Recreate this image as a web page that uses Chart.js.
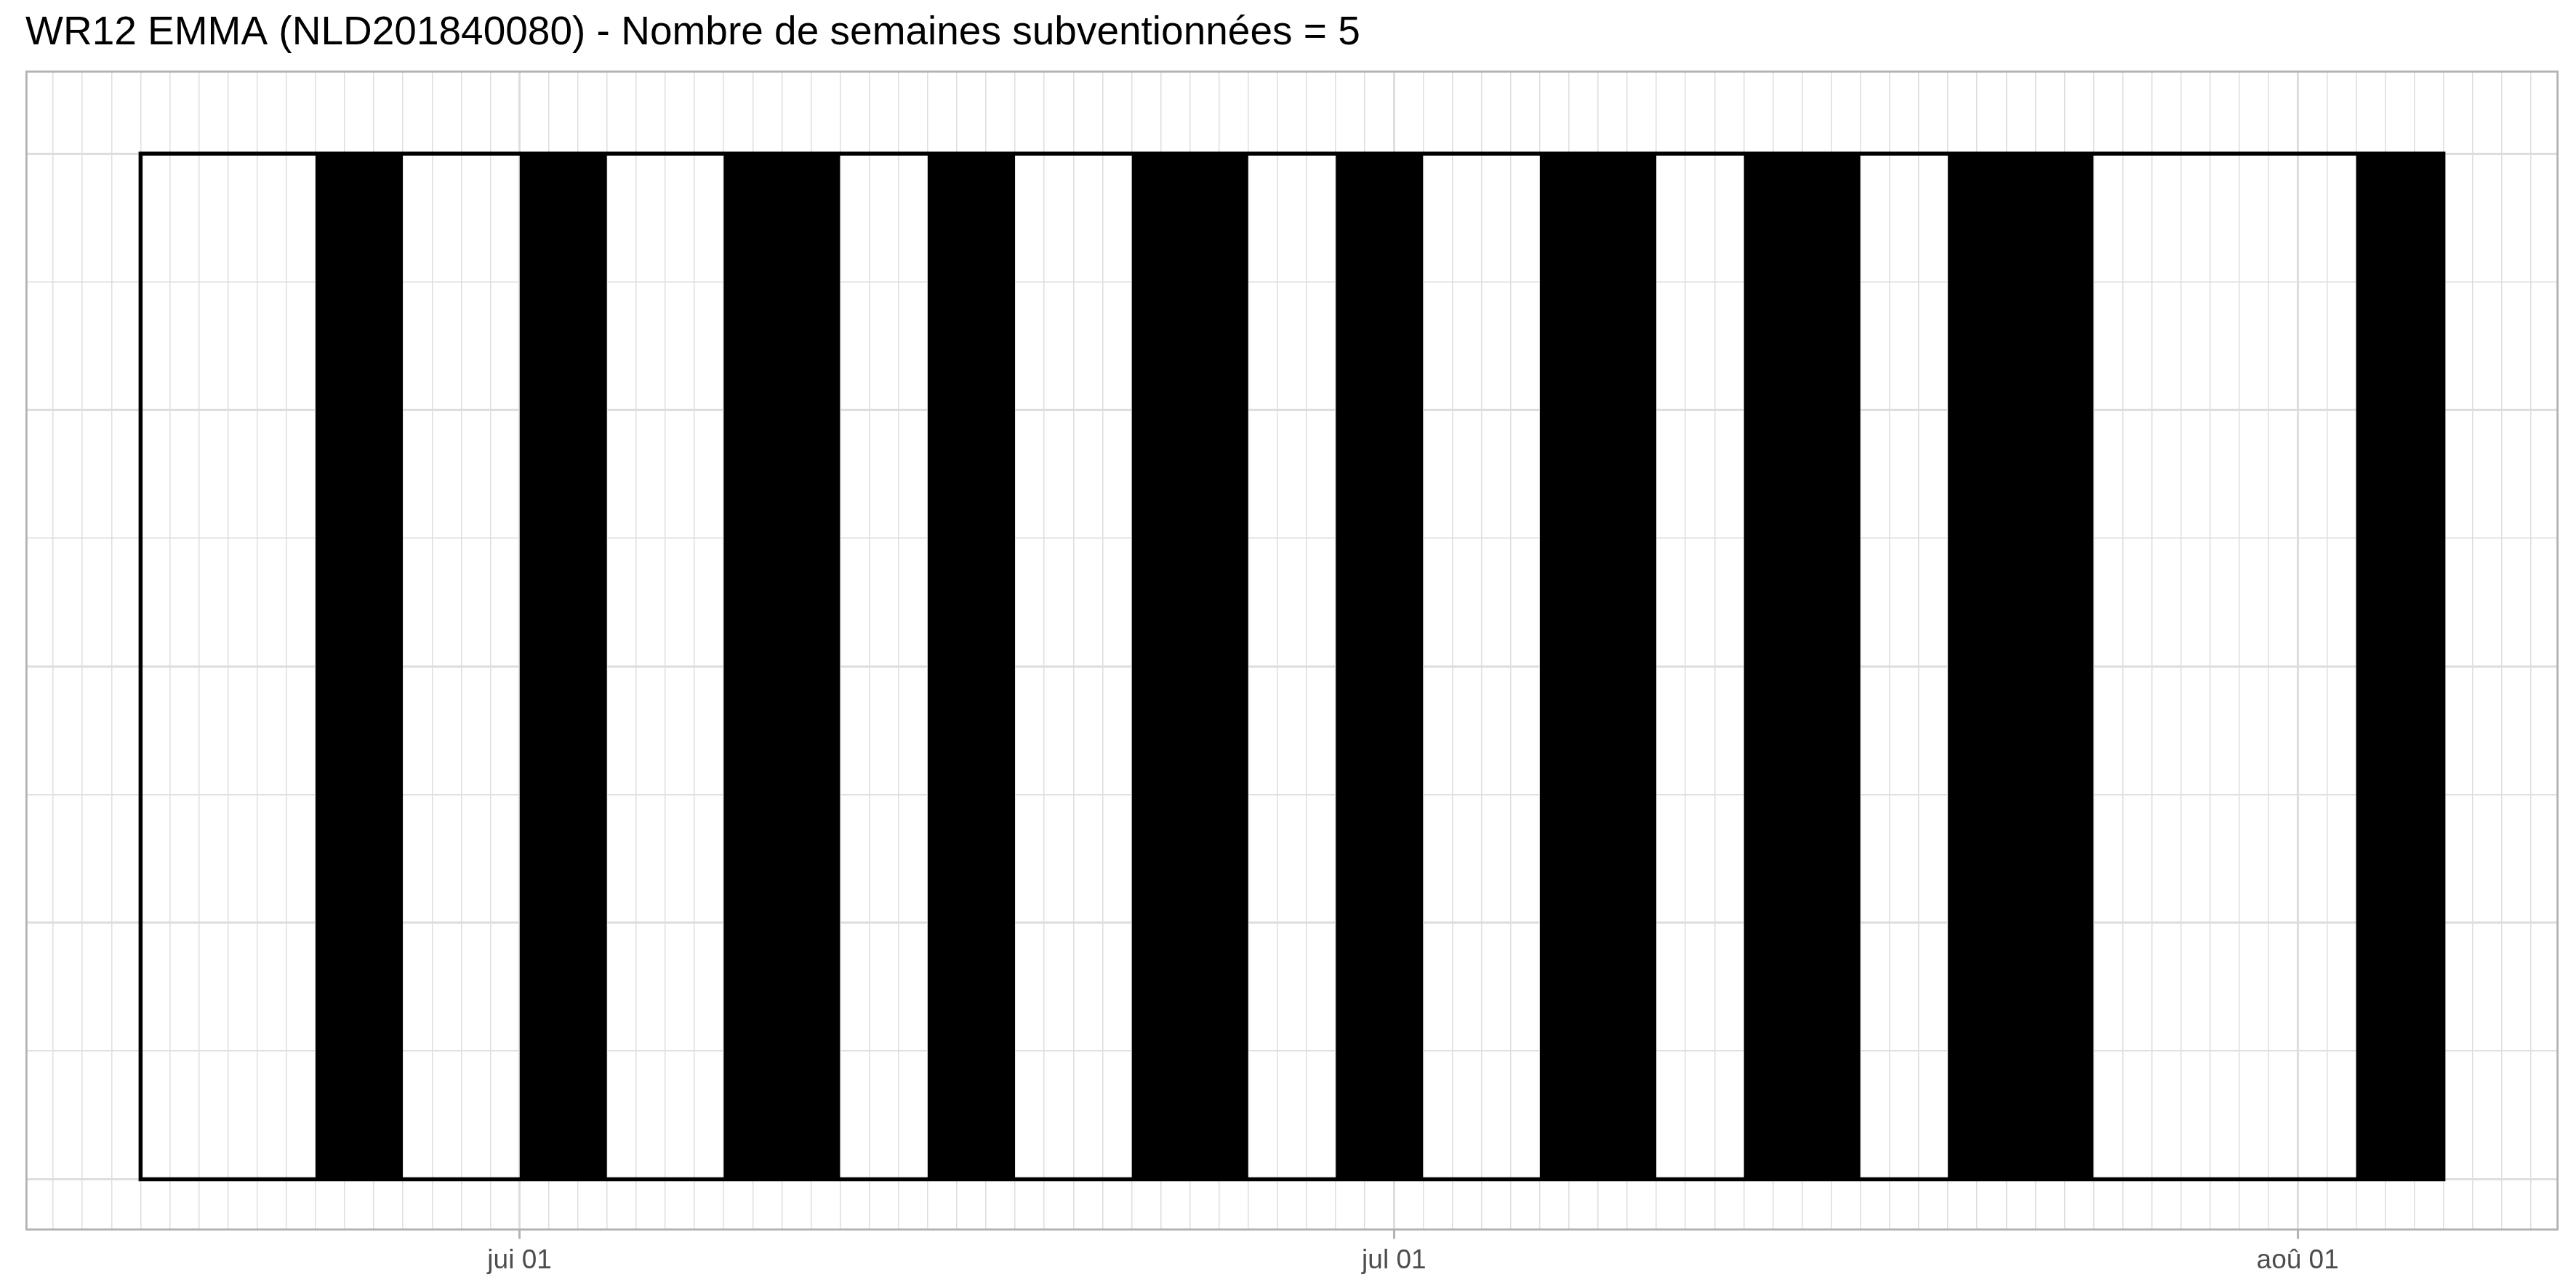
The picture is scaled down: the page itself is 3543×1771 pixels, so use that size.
<!DOCTYPE html>
<html>
<head>
<meta charset="utf-8">
<script src="https://cdn.jsdelivr.net/npm/chart.js@4/dist/chart.umd.min.js"></script>
<style>
  html, body { margin: 0; padding: 0; background: #fff; }
  canvas { display: block; }
</style>
</head>
<body>
<canvas id="chart" width="3543" height="1771"></canvas>
<script>
// period of the whole trip and the subsidised stretches (black bars)
const tripStart = '2018-05-19';
const tripEnd = '2018-08-06';
const blackStart = ['2018-05-25', '2018-06-01', '2018-06-08', '2018-06-15', '2018-06-22',
                    '2018-06-29', '2018-07-06', '2018-07-13', '2018-07-20', '2018-08-03'];
const blackEnd = ['2018-05-28', '2018-06-04', '2018-06-12', '2018-06-18', '2018-06-26',
                  '2018-07-02', '2018-07-10', '2018-07-17', '2018-07-25', '2018-08-06'];
const monthTicks = ['2018-06-01', '2018-07-01', '2018-08-01'];
const monthLabels = ['jui 01', 'jul 01', 'aoû 01'];

const titleText = 'WR12 EMMA (NLD201840080) - Nombre de semaines subventionnées = 5';

// days counted from 1 June
function dayOf(s) {
    const p = s.split('-').map(Number);
    return (Date.UTC(p[0], p[1] - 1, p[2]) - Date.UTC(2018, 5, 1)) / 86400000;
}

const x0 = dayOf(tripStart);
const x1 = dayOf(tripEnd);
const pad = (x1 - x0) * 0.05;
const majorDays = monthTicks.map(dayOf);

const GRID = '#DEDEDE';

let datasets = [];

// outline of the trip
datasets.push({
    data: [
        {x: x0, y: 0}, {x: x0, y: 1}, {x: x1, y: 1},
        {x: x1, y: 0}, {x: x0, y: 0}, {x: x0, y: 1}
    ],
    showLine: true,
    borderColor: '#000000',
    borderWidth: 5.5,
    borderJoinStyle: 'miter',
    pointRadius: 0,
    fill: false
});

// black stretches
blackStart.forEach((s, i) => {
    datasets.push({
        data: [{x: dayOf(s), y: 1}, {x: dayOf(blackEnd[i]), y: 1}],
        showLine: true,
        borderColor: '#000000',
        borderWidth: 1,
        backgroundColor: '#000000',
        pointRadius: 0,
        fill: {value: 0}
    });
});

const panelBorder = {
    id: 'panelBorder',
    afterDatasetsDraw(chart) {
        const a = chart.chartArea;
        const c = chart.ctx;
        c.save();
        c.strokeStyle = '#B3B3B3';
        c.lineWidth = 2.8;
        c.strokeRect(a.left + 1.4, a.top + 1.4, a.right - a.left - 2.8, a.bottom - a.top - 2.8);
        c.restore();
    }
};

Chart.defaults.font.family = '"Liberation Sans", Arial, sans-serif';

new Chart(document.getElementById('chart'), {
    type: 'scatter',
    data: {datasets: datasets},
    plugins: [panelBorder],
    options: {
        responsive: false,
        animation: false,
        devicePixelRatio: 1,
        layout: {padding: {left: 35, right: 24, top: 0, bottom: 0}},
        plugins: {
            legend: {display: false},
            tooltip: {enabled: false},
            title: {
                display: true,
                text: titleText,
                align: 'start',
                color: '#000000',
                font: {size: 55, weight: 'normal', lineHeight: 1.2},
                padding: {top: 13, bottom: 18}
            }
        },
        scales: {
            x: {
                type: 'linear',
                min: x0 - pad,
                max: x1 + pad,
                afterBuildTicks: scale => {
                    let t = [];
                    for (let d = Math.ceil(scale.min); d <= Math.floor(scale.max); d++) {
                        t.push({value: d});
                    }
                    scale.ticks = t;
                },
                afterFit: scale => { scale.height = 79; },
                border: {display: false},
                grid: {
                    color: GRID,
                    lineWidth: ctx => majorDays.includes(ctx.tick.value) ? 3 : 1.5,
                    drawTicks: true,
                    tickLength: 11.5,
                    tickWidth: 3,
                    tickColor: ctx => majorDays.includes(ctx.tick.value) ? '#B3B3B3' : 'rgba(0,0,0,0)'
                },
                ticks: {
                    autoSkip: false,
                    maxRotation: 0,
                    minRotation: 0,
                    padding: 8,
                    color: '#4D4D4D',
                    font: {size: 37},
                    callback: v => {
                        const k = majorDays.indexOf(v);
                        return k >= 0 ? monthLabels[k] : '';
                    }
                }
            },
            y: {
                type: 'linear',
                min: -0.05,
                max: 1.081,
                afterBuildTicks: scale => {
                    let t = [];
                    for (let k = 0; k <= 8; k++) t.push({value: k * 0.125});
                    scale.ticks = t;
                },
                afterFit: scale => { scale.width = 0; },
                border: {display: false},
                grid: {
                    color: GRID,
                    lineWidth: ctx => (ctx.tick && ctx.tick.value * 4 % 1 === 0) ? 3 : 1.5,
                    drawTicks: false
                },
                ticks: {display: false}
            }
        }
    }
});
</script>
</body>
</html>
